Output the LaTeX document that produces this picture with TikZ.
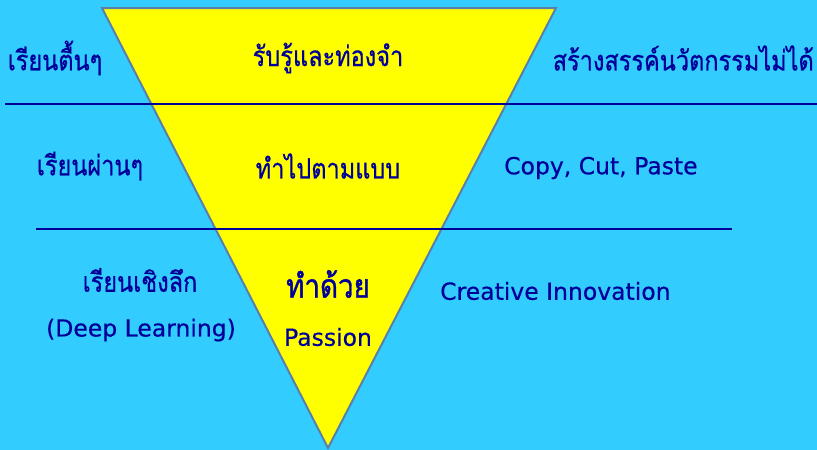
\documentclass[tikz,border=0pt]{standalone}
\usepackage{fontspec}
\usepackage{xcolor}
\newfontfamily\thaifont[Script=Thai, FakeStretch=0.84, FakeBold=0.6]{Loma}
\newfontfamily\thaiboldfont[Script=Thai, FakeStretch=0.84, FakeBold=1.2]{Loma}
\newfontfamily\latinfont[FakeBold=0.4]{DejaVu Sans}
\definecolor{skyback}{HTML}{33CCFF}
\definecolor{funnel}{HTML}{FFFF00}
\definecolor{funneledge}{HTML}{5A7FA8}
\definecolor{inkblue}{HTML}{000099}
\tikzset{
  label/.style={inner sep=0pt, text=inkblue, font=\thaifont\fontsize{28}{32}\selectfont},
  latinlabel/.style={label, font=\latinfont\fontsize{23.5}{28}\selectfont},
  bigword/.style={label, font=\thaiboldfont\fontsize{33}{37}\selectfont},
  rule/.style={draw=inkblue, line width=2.6pt}
}
\begin{document}
\begin{tikzpicture}[x=1pt,y=-1pt]
\fill [skyback] (0,0) rectangle (817,450);
\useasboundingbox (0,0) rectangle (817,450);
% funnel
\coordinate (tl) at (102,8);
\coordinate (tr) at (556,8);
\coordinate (tip) at (328,448);
\draw [fill=funnel, draw=funneledge, line width=2pt] (tl) -- (tr) -- (tip) -- cycle;
% level rules
\coordinate (r1a) at (5,104);
\coordinate (r1b) at (817,104);
\coordinate (r2a) at (36,229);
\coordinate (r2b) at (732,229);
\draw [rule] (r1a) -- (r1b);
\draw [rule] (r2a) -- (r2b);
% top level
\node [label] (shallow) at (55,58) {เรียนตื้นๆ};
\node [label] (memo) at (328,58) {รับรู้และท่องจำ};
\node [label, anchor=east] (noinno) at (814,58) {สร้างสรรค์นวัตกรรมไม่ได้};
% middle level
\node [label] (passing) at (90,166) {เรียนผ่านๆ};
\node [label] (follow) at (328,166) {ทำไปตามแบบ};
\node [latinlabel, anchor=west] (copy) at (504,168) {Copy, Cut, Paste};
% bottom level
\node [label] (deep) at (140,280) {เรียนเชิงลึก};
\node [latinlabel] (deepen) at (141,330) {(Deep Learning)};
\node [bigword] (withheart) at (328,284) {ทำด้วย};
\node [latinlabel] (passion) at (328,337) {Passion};
\node [latinlabel, anchor=west] (creative) at (440,291) {Creative Innovation};
\end{tikzpicture}
\end{document}
